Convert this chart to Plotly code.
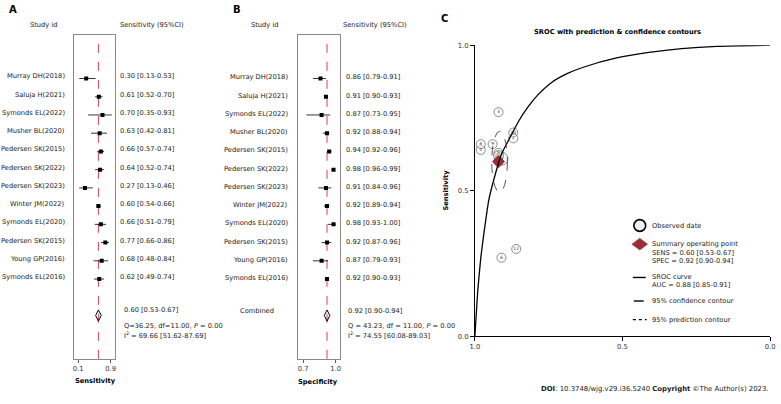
import plotly.graph_objects as go

W, H = 781, 404
FONT = "DejaVu Sans"
TXT = "#1a1a1a"

# ---------------- data ----------------
studies = ["Murray DH(2018)", "Saluja H(2021)", "Symonds EL(2022)", "Musher BL(2020)",
           "Pedersen SK(2015)", "Pedersen SK(2022)", "Pedersen SK(2023)", "Winter JM(2022)",
           "Symonds EL(2020)", "Pedersen SK(2015)", "Young GP(2016)", "Symonds EL(2016)"]
sens = [0.30, 0.61, 0.70, 0.63, 0.66, 0.64, 0.27, 0.60, 0.66, 0.77, 0.68, 0.62]
sens_lo = [0.13, 0.52, 0.35, 0.42, 0.57, 0.52, 0.13, 0.54, 0.51, 0.66, 0.48, 0.49]
sens_hi = [0.53, 0.70, 0.93, 0.81, 0.74, 0.74, 0.46, 0.66, 0.79, 0.86, 0.84, 0.74]
spec = [0.86, 0.91, 0.87, 0.92, 0.94, 0.98, 0.91, 0.92, 0.98, 0.92, 0.87, 0.92]
spec_lo = [0.79, 0.90, 0.73, 0.88, 0.92, 0.96, 0.84, 0.89, 0.93, 0.87, 0.79, 0.90]
spec_hi = [0.91, 0.93, 0.95, 0.94, 0.96, 0.99, 0.96, 0.94, 1.00, 0.96, 0.93, 0.93]

pooled_sens, pooled_sens_lo, pooled_sens_hi = 0.60, 0.53, 0.67
pooled_spec, pooled_spec_lo, pooled_spec_hi = 0.92, 0.90, 0.94
sens_stats = ["Q=36.25, df=11.00, <i>P</i> = 0.00", "I<sup>2</sup> = 69.66 [51.62-87.69]"]
spec_stats = ["Q = 43.23, df = 11.00, <i>P</i> = 0.00", "I<sup>2</sup> = 74.55 [60.08-89.03]"]

sens_ticks = [0.1, 0.9]
spec_ticks = [0.7, 1.0]
sroc_ticks = [1.0, 0.5, 0.0]

obs_labels = ["12", "8", "10", "5", "9", "1", "6", "7", "4", "3", "2", "11"]
obs_size = [9, 13, 9, 9, 9, 9, 9, 9, 9, 9, 9, 10]

# SROC curve (false-positive rate, sensitivity)
curve_fpr = [0.0, 0.01, 0.02, 0.03, 0.047, 0.07, 0.09, 0.12, 0.15, 0.18, 0.214,
             0.26, 0.314, 0.37, 0.48, 0.59, 0.70, 0.82, 1.0]
curve_sens = [0.0, 0.16, 0.27, 0.35, 0.468, 0.56, 0.626, 0.685, 0.742, 0.788, 0.83,
              0.872, 0.903, 0.925, 0.956, 0.975, 0.988, 0.996, 1.0]
curve_spec = [1 - f for f in curve_fpr]

# 95% confidence contour extent (spec range, sens range)
conf_spec = [0.943, 0.890]
conf_sens = [0.495, 0.704]

sroc_auc = "AUC = 0.88 [0.85-0.91]"

rows = list(range(1, len(studies) + 1))
comb_row = len(studies) + 2


def px(x):
    return x / W


def py(y):
    return 1 - y / H


fig = go.Figure()

# ---------- panel A: sensitivity forest ----------
fig.add_trace(go.Scatter(
    x=sens, y=rows, mode="markers", xaxis="x", yaxis="y",
    marker=dict(symbol="square", size=4, color="black"),
    error_x=dict(type="data", symmetric=False,
                 array=[h - v for h, v in zip(sens_hi, sens)],
                 arrayminus=[v - l for l, v in zip(sens_lo, sens)],
                 color="black", thickness=0.8, width=0),
    showlegend=False, hoverinfo="skip"))
fig.add_trace(go.Scatter(
    x=[pooled_sens], y=[comb_row], mode="markers", xaxis="x", yaxis="y",
    marker=dict(symbol="diamond-tall-open", size=8, color="black", line=dict(width=1)),
    showlegend=False, hoverinfo="skip"))

# ---------- panel B: specificity forest ----------
fig.add_trace(go.Scatter(
    x=spec, y=rows, mode="markers", xaxis="x2", yaxis="y2",
    marker=dict(symbol="square", size=4, color="black"),
    error_x=dict(type="data", symmetric=False,
                 array=[h - v for h, v in zip(spec_hi, spec)],
                 arrayminus=[v - l for l, v in zip(spec_lo, spec)],
                 color="black", thickness=0.8, width=0),
    showlegend=False, hoverinfo="skip"))
fig.add_trace(go.Scatter(
    x=[pooled_spec], y=[comb_row], mode="markers", xaxis="x2", yaxis="y2",
    marker=dict(symbol="diamond-tall-open", size=8, color="black", line=dict(width=1)),
    showlegend=False, hoverinfo="skip"))

# ---------- panel C: SROC ----------
fig.add_trace(go.Scatter(
    x=spec, y=sens, mode="markers+text", xaxis="x3", yaxis="y3",
    text=obs_labels, textposition="middle center",
    textfont=dict(size=4.5, color="#333", family=FONT),
    marker=dict(symbol="circle", size=obs_size, color="rgba(255,255,255,0.6)",
                line=dict(color="#333", width=0.8)),
    showlegend=False, hoverinfo="skip"))
fig.add_trace(go.Scatter(
    x=[pooled_spec], y=[pooled_sens], mode="markers", xaxis="x3", yaxis="y3",
    marker=dict(symbol="diamond", size=10, color="#9b2d35"),
    showlegend=False, hoverinfo="skip"))
fig.add_trace(go.Scatter(
    x=curve_spec, y=curve_sens, mode="lines", xaxis="x3", yaxis="y3",
    line=dict(color="black", width=1.3, shape="spline", smoothing=0.5),
    showlegend=False, hoverinfo="skip"))

# ---------- axes ----------
row_top = 1 + (32 - 76) / 18.6
row_bot = 1 + (362 - 76) / 18.6
tickfont = dict(size=6.8, color="#333", family=FONT)
box = dict(showline=True, linecolor="#8a8a8a", linewidth=1, mirror=True,
           showgrid=False, zeroline=False)

sA = 41.25
fig.update_layout(
    xaxis=dict(domain=[px(74 - 0.1 * sA), px(74 + 0.9 * sA)], range=[0, 1],
               tickvals=sens_ticks, ticktext=[f"{t:.1f}" for t in sens_ticks],
               ticks="outside", ticklen=3, tickcolor="#555", tickfont=tickfont,
               anchor="y", **box),
    yaxis=dict(domain=[py(362), py(32)], range=[row_bot, row_top],
               showticklabels=False, ticks="", anchor="x", **box),
    xaxis2=dict(domain=[px(297), px(339)], range=[0.7 - 5 / 110, 1.0 + 4 / 110],
                tickvals=spec_ticks, ticktext=[f"{t:.1f}" for t in spec_ticks],
                ticks="outside", ticklen=3, tickcolor="#555", tickfont=tickfont,
                anchor="y2", **box),
    yaxis2=dict(domain=[py(362), py(32)], range=[row_bot, row_top],
                showticklabels=False, ticks="", anchor="x2", **box),
    xaxis3=dict(domain=[px(476), px(775)], range=[1, 0],
                tickvals=sroc_ticks, ticktext=[f"{t:.1f}" for t in sroc_ticks],
                ticks="outside", ticklen=4, tickcolor="black", tickfont=tickfont,
                showline=True, linecolor="black", linewidth=1,
                showgrid=False, zeroline=False, anchor="y3"),
    yaxis3=dict(domain=[py(339), py(42)], range=[0, 1],
                tickvals=sroc_ticks, ticktext=[f"{t:.1f}" for t in sroc_ticks],
                ticks="outside", ticklen=4, tickcolor="black", tickfont=tickfont,
                showline=True, linecolor="black", linewidth=1,
                showgrid=False, zeroline=False, anchor="x3"),
)

shapes = []
# pooled reference lines
for xr, yr, v in [("x", "y domain", pooled_sens), ("x2", "y2 domain", pooled_spec)]:
    shapes.append(dict(type="line", xref=xr, yref=yr, x0=v, x1=v, y0=0, y1=1,
                       line=dict(color="#d8435a", width=1, dash="dash"), layer="below"))
# confidence contour
shapes.append(dict(type="circle", xref="x3", yref="y3",
                   x0=conf_spec[0], x1=conf_spec[1], y0=conf_sens[0], y1=conf_sens[1],
                   line=dict(color="#444", width=0.9, dash="dash")))

# legend glyphs (panel C)
lx, r = 643, 6
shapes.append(dict(type="circle", xref="paper", yref="paper",
                   x0=px(lx - r), x1=px(lx + r), y0=py(226 + r), y1=py(226 - r),
                   fillcolor="#eeeeee", line=dict(color="black", width=1.6)))
shapes.append(dict(type="path", xref="paper", yref="paper",
                   path=f"M {px(lx-8)},{py(245)} L {px(lx)},{py(239)} L {px(lx+8)},{py(245)} L {px(lx)},{py(251)} Z",
                   fillcolor="#9b2d35", line=dict(color="#9b2d35", width=0.5)))
shapes.append(dict(type="line", xref="paper", yref="paper",
                   x0=px(636), x1=px(649), y0=py(279), y1=py(279),
                   line=dict(color="black", width=1.4)))
shapes.append(dict(type="line", xref="paper", yref="paper",
                   x0=px(637), x1=px(647), y0=py(303), y1=py(303),
                   line=dict(color="black", width=1.4)))
shapes.append(dict(type="line", xref="paper", yref="paper",
                   x0=px(636), x1=px(650), y0=py(322), y1=py(322),
                   line=dict(color="black", width=1.2, dash="dot")))

ann = []


def A(x, y, text, xanchor="left", size=6.7, bold=False, xref="paper", yref="paper",
      yshift=0, color=TXT, textangle=0):
    t = f"<b>{text}</b>" if bold else text
    ann.append(dict(x=x, y=y, xref=xref, yref=yref, text=t, showarrow=False,
                    xanchor=xanchor, yanchor="middle", yshift=yshift, textangle=textangle,
                    font=dict(size=size, color=color, family=FONT)))


# panel letters
A(px(2), py(6), "A", size=10, bold=True, color="black")
A(px(229), py(6), "B", size=10, bold=True, color="black")
A(px(440), py(15), "C", size=10, bold=True, color="black")

# headers
A(px(39), py(21), "Study id", xanchor="center")
A(px(149), py(21), "Sensitivity (95%CI)", xanchor="center")
A(px(263), py(21), "Study id", xanchor="center")
A(px(375), py(21), "Sensitivity (95%CI)", xanchor="center")

# study rows
for i, name in enumerate(studies):
    rr = rows[i]
    A(px(63), rr, name, xanchor="right", yref="y", yshift=2)
    A(px(114), rr, f"{sens[i]:.2f} [{sens_lo[i]:.2f}-{sens_hi[i]:.2f}]", yref="y", yshift=2)
    A(px(289), rr, name, xanchor="right", yref="y2", yshift=1)
    A(px(343), rr, f"{spec[i]:.2f} [{spec_lo[i]:.2f}-{spec_hi[i]:.2f}]", yref="y2", yshift=1)

# combined
A(px(119), py(312), f"{pooled_sens:.2f} [{pooled_sens_lo:.2f}-{pooled_sens_hi:.2f}]")
A(px(119), py(329), sens_stats[0])
A(px(119), py(338), sens_stats[1])
A(px(275), py(313), "Combined", xanchor="right")
A(px(345), py(313), f"{pooled_spec:.2f} [{pooled_spec_lo:.2f}-{pooled_spec_hi:.2f}]")
A(px(345), py(329), spec_stats[0])
A(px(345), py(338), spec_stats[1])

# axis titles
A(px(92), py(385), "Sensitivity", xanchor="center", bold=True, color="black")
A(px(317), py(386), "Specificity", xanchor="center", bold=True, color="black")
A(px(447), py(190), "Sensitivity", xanchor="center", bold=True, color="black", textangle=-90)

# SROC title
A(px(620), py(29), "SROC with prediction &amp; confidence contours", xanchor="center",
  bold=True, color="black")

# legend texts
A(px(653), py(226), "Observed date")
A(px(653), py(245), "Summary operating point")
A(px(653), py(254), f"SENS = {pooled_sens:.2f} [{pooled_sens_lo:.2f}-{pooled_sens_hi:.2f}]")
A(px(653), py(262), f"SPEC = {pooled_spec:.2f} [{pooled_spec_lo:.2f}-{pooled_spec_hi:.2f}]")
A(px(653), py(279), "SROC curve")
A(px(653), py(287), sroc_auc)
A(px(653), py(303), "95% confidence contour")
A(px(653), py(322), "95% prediction contour")

# footer
A(px(776), py(393), "<b>DOI</b>: 10.3748/wjg.v29.i36.5240 <b>Copyright</b> ©The Author(s) 2023.",
  xanchor="right", size=6.9)

fig.update_layout(
    width=W, height=H, margin=dict(l=0, r=0, t=0, b=0),
    paper_bgcolor="white", plot_bgcolor="white",
    font=dict(family=FONT, size=6.7, color=TXT),
    shapes=shapes, annotations=ann, showlegend=False,
)

fig.write_html("out.html",
               config={"displayModeBar": False},
               post_script="document.body.style.margin='0';document.body.style.padding='0';"
                           "document.body.style.overflow='hidden';")
